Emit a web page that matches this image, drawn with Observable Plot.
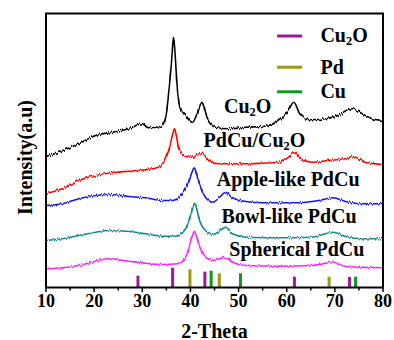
<!DOCTYPE html>
<html>
<head>
<meta charset="utf-8">
<script src="https://cdn.jsdelivr.net/npm/d3@7"></script>
<script src="https://cdn.jsdelivr.net/npm/@observablehq/plot@0.6"></script>
<style>
  html, body { margin: 0; padding: 0; background: white; }
  svg text { font-family: 'Liberation Serif', 'Times New Roman', serif !important; font-weight: bold; }
</style>
</head>
<body>
<div id="chart"></div>
<script>
// ---- Data (2-theta in degrees, intensity in arbitrary units, offset per curve) ----
const cu2oX = [10, 12, 14.5, 16.8, 20.3, 23.8, 27.2, 30, 31.3, 33.8, 34.8, 35.6, 36.1, 36.5, 36.9, 37.2, 37.9, 39.0, 40.4, 41.4, 42.4, 43.5, 45.2, 48.0, 51.5, 54.9, 58.4, 60.1, 61.5, 62.7, 64.7, 68.1, 71.5, 73.6, 75.7, 77.8, 80];
const cu2oY = [131, 134, 139, 143.7, 152, 155.3, 158.7, 163.7, 159.7, 161, 169, 200.3, 227, 250.3, 227, 203.7, 178.7, 172, 165, 173.7, 185.3, 168.7, 160.3, 158.7, 160.3, 161, 167, 175.3, 185.3, 173.7, 167.7, 168.7, 173.7, 178.7, 173.7, 168.7, 167];

const pdcuCu2oX = [10, 13.4, 16.8, 20.3, 23.7, 27.2, 30.7, 33.4, 34.8, 35.6, 36.2, 36.7, 37.1, 37.6, 38.3, 39.0, 40.4, 41.5, 42.4, 43.8, 45.2, 48.0, 51.5, 54.9, 58.4, 60.4, 61.6, 62.8, 65.2, 68.6, 72.1, 73.8, 76.2, 80];
const pdcuCu2oY = [94, 98.7, 107, 112, 114.7, 116.3, 117.7, 120.3, 128.7, 138.7, 151, 158.7, 151, 138.7, 133.7, 131, 130.3, 133, 134.3, 127, 124, 123.7, 123.7, 124.3, 125.3, 130.3, 135.3, 128.7, 125.3, 127, 128.7, 131, 125.3, 123];

const appleX = [10, 13.4, 16.8, 20.3, 23.0, 27.2, 30.7, 34.1, 36.2, 38.3, 39.7, 40.3, 40.8, 41.2, 41.7, 43.1, 44.7, 46.2, 47.3, 48.7, 51.5, 54.9, 61.8, 66.7, 69.6, 72.2, 75.7, 80];
const appleY = [82, 83.7, 88.7, 92, 93, 91, 89.7, 87, 87, 93.7, 107, 115, 119.7, 115, 107, 90.3, 85.3, 91, 95.3, 89.7, 86, 84.7, 84.7, 87, 89.7, 86, 83.7, 83.7];

const bowlX = [10, 13.4, 16.8, 20.3, 23.0, 27.2, 30.7, 34.1, 36.9, 39.0, 40.0, 40.5, 40.9, 41.3, 41.7, 43.1, 44.7, 46.2, 47.3, 48.7, 51.5, 58.4, 65.2, 69.6, 72.2, 75.7, 80];
const bowlY = [47, 48.7, 52, 55.3, 57, 56, 53.7, 51.3, 51.3, 58.7, 72, 80, 84.3, 79, 70.3, 57, 53, 57, 60.3, 53.7, 50.3, 49.7, 50.3, 55.3, 51, 48.7, 48.7];

const sphericalX = [10, 13.4, 16.8, 20.3, 23.0, 27.2, 30.7, 34.1, 37.6, 39.3, 40.1, 40.5, 40.8, 41.2, 41.7, 43.1, 44.7, 46.2, 47.3, 48.7, 51.5, 58.4, 65.2, 69.6, 72.2, 80];
const sphericalY = [18.5, 19.7, 22, 26.3, 28.7, 26.3, 24.3, 23, 23.7, 33.7, 47, 53, 56.3, 52, 43.7, 30.3, 27, 29, 30.3, 25.3, 22, 21.3, 22, 25.3, 21, 19.7];

// Reference (standard card) line positions and relative heights
const refCu2oX = [29.1, 36.3, 43.0, 61.6, 73.05];
const refCu2oH = [11.3, 19.3, 15.3, 10.3, 10];
const refPdX = [39.9, 46.0, 68.8];
const refPdH = [17.7, 13.7, 10.3];
const refCuX = [44.3, 50.4, 74.3];
const refCuH = [16.3, 13.7, 10.3];

// Curve labels
const curveLabels = ["Cu₂O", "PdCu/Cu₂O", "Apple-like PdCu", "Bowl-like PdCu", "Spherical PdCu"];
const curveLabelX = [51.9, 53.3, 60.3, 60.5, 62.1];
const curveLabelY = [180.7, 146.7, 107.6, 70.7, 38.4];

// Legend
const legendNames = ["Cu₂O", "Pd", "Cu"];
const legendY = [251.5, 220.3, 195.7];

// Axis ticks
const majorTicks = [10, 20, 30, 40, 50, 60, 70, 80];
const minorTicks = [15, 25, 35, 45, 55, 65, 75];

// ---- Styles ----
const curveColors = ["#000000", "#ff0000", "#1515f0", "#128a8a", "#ff22ff"];
const refColors = {Cu2O: "#9a1a9a", Pd: "#9a9a10", Cu: "#0e9a1e"};
const legendColors = [refColors.Cu2O, refColors.Pd, refColors.Cu];
const font = "'Liberation Serif', 'Times New Roman', serif";

const series = [
  [cu2oX, cu2oY], [pdcuCu2oX, pdcuCu2oY], [appleX, appleY], [bowlX, bowlY], [sphericalX, sphericalY]
];
const curveRows = series.flatMap(([xs, ys], i) => xs.map((x, j) => ({x, y: ys[j], s: i})));

const refRows = [
  ...refCu2oX.map((x, i) => ({x, h: refCu2oH[i], c: refColors.Cu2O})),
  ...refPdX.map((x, i) => ({x, h: refPdH[i], c: refColors.Pd})),
  ...refCuX.map((x, i) => ({x, h: refCuH[i], c: refColors.Cu}))
];

const labelRows = curveLabels.map((t, i) => ({t, x: curveLabelX[i], y: curveLabelY[i]}));
const legendRows = legendNames.map((t, i) => ({t, y: legendY[i], c: legendColors[i]}));
const legendLineX1 = 58.0, legendLineX2 = 63.2, legendTextX = 67.0;

const chart = Plot.plot({
  width: 394,
  height: 340,
  marginLeft: 45.5,
  marginRight: 11.5,
  marginTop: 13,
  marginBottom: 53,
  style: {fontFamily: font, fontWeight: "bold", fontSize: "17px", background: "white", color: "black"},
  x: {domain: [10, 80]},
  y: {domain: [0, 274], axis: null},
  marks: [
    Plot.line(curveRows, {x: "x", y: "y", z: "s", stroke: d => curveColors[d.s], strokeWidth: 1.6, curve: "monotone-x", className: "xrd"}),
    Plot.ruleX(refRows, {x: "x", y1: 0, y2: "h", stroke: "c", strokeWidth: 3}),
    Plot.axisX({ticks: majorTicks, tickSize: 5, tickPadding: 2, tickFormat: d => String(d), label: null, fontSize: 18, fontFamily: font, fontWeight: "bold", strokeWidth: 1.5}),
    Plot.axisX({ticks: minorTicks, tickSize: 3.5, text: null, label: null, strokeWidth: 1.5}),
    Plot.frame({stroke: "black", strokeWidth: 2}),
    Plot.text(labelRows, {x: "x", y: "y", text: "t", fontSize: 20, fontFamily: font, fontWeight: "bold", textAnchor: "middle", lineAnchor: "middle", fill: "black"}),
    Plot.link(legendRows, {x1: () => legendLineX1, x2: () => legendLineX2, y1: "y", y2: "y", stroke: "c", strokeWidth: 3}),
    Plot.text(legendRows, {x: () => legendTextX, y: "y", text: "t", fontSize: 20, fontFamily: font, fontWeight: "bold", textAnchor: "start", lineAnchor: "middle", fill: "black"}),
    Plot.text(["2-Theta"], {frameAnchor: "bottom", dy: 50, fontSize: 20, fontFamily: font, fontWeight: "bold", textAnchor: "middle", lineAnchor: "bottom", fill: "black"}),
    Plot.text(["Intensity(a.u)"], {frameAnchor: "left", rotate: -90, dx: -14.5, dy: 7, fontSize: 20, fontFamily: font, fontWeight: "bold", textAnchor: "middle", lineAnchor: "bottom", fill: "black"})
  ]
});

// Force the serif family on every text node (axis labels included)
d3.select(chart).selectAll("text, g[aria-label$='axis']").attr("font-family", font);

// Render "₂" as a true subscript
d3.select(chart).selectAll("text").each(function () {
  if (this.querySelector("tspan")) return;
  const t = this.textContent;
  if (!t.includes("₂")) return;
  const parts = t.split("₂");
  const sel = d3.select(this);
  sel.text(null);
  parts.forEach((p, i) => {
    if (i > 0) {
      sel.append("tspan").attr("font-size", "0.62em").attr("dy", 3).text("2");
      sel.append("tspan").attr("dy", -3).text(p);
    } else {
      sel.append("tspan").text(p);
    }
  });
});

// Rendering texture: fine vertical jitter, like the noisy detector trace
const defs = d3.select(chart).insert("defs", ":first-child");
const f = defs.append("filter").attr("id", "grain").attr("x", "-5%").attr("y", "-20%").attr("width", "110%").attr("height", "140%");
f.append("feTurbulence").attr("type", "fractalNoise").attr("baseFrequency", "1.1 0.03").attr("numOctaves", 1).attr("seed", 3).attr("result", "n");
const ct = f.append("feComponentTransfer").attr("in", "n").attr("result", "m");
ct.append("feFuncR").attr("type", "linear").attr("slope", 0).attr("intercept", 0.5);
f.append("feDisplacementMap").attr("in", "SourceGraphic").attr("in2", "m").attr("scale", 5).attr("xChannelSelector", "R").attr("yChannelSelector", "G");
d3.select(chart).selectAll("g.xrd").attr("filter", "url(#grain)");

document.getElementById("chart").appendChild(chart);
</script>
</body>
</html>
